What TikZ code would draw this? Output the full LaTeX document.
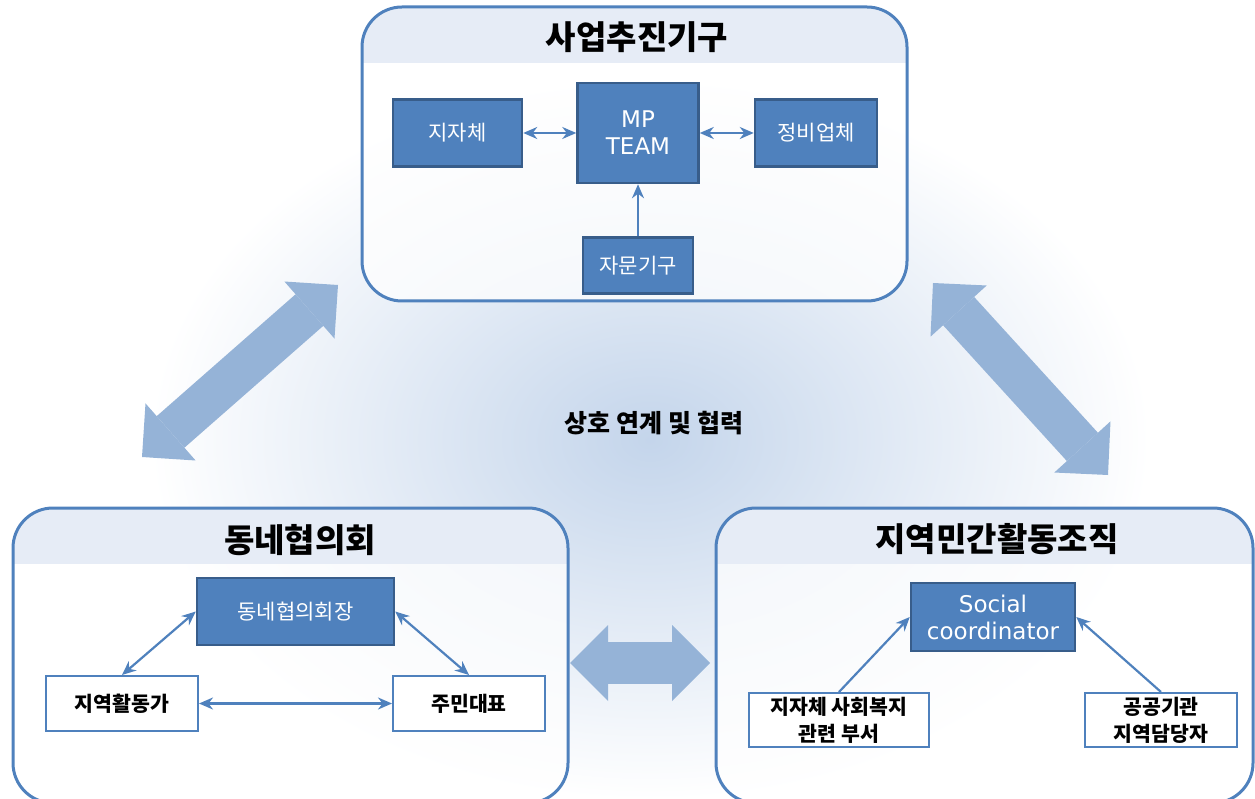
\documentclass[tikz,border=0pt]{standalone}
\usepackage{fontspec}
\setmainfont{Noto Sans CJK KR}
\newfontfamily\latinfont{DejaVu Sans}
\usepackage{tikz}
\usetikzlibrary{positioning}
\usetikzlibrary{arrows.meta}
\definecolor{boxblue}{HTML}{4F81BD}
\definecolor{edgeblue}{HTML}{385D8A}
\definecolor{bandblue}{HTML}{E6ECF6}
\definecolor{glowblue}{HTML}{C4D5EB}
\definecolor{bigblue}{HTML}{95B3D7}
\tikzset {
  % rounded group frames with a pale title band
  group/.style = {draw=boxblue, line width=3pt, rounded corners=40pt,
    fill=white, fill opacity=.75,
    path picture={\fill[bandblue, fill opacity=1, sharp corners] (path picture bounding box.north west)
      rectangle ([yshift=-56pt]path picture bounding box.north east);}},
  title/.style = {font=\bfseries\fontsize{33}{38}\selectfont},
  % filled and plain boxes
  dark/.style = {draw=edgeblue, line width=2.5pt, fill=boxblue, text=white,
    align=center, inner sep=0pt},
  light/.style = {draw=boxblue, line width=2pt, fill=white, align=center,
    inner sep=0pt, font=\bfseries\fontsize{20.5}{27}\selectfont},
  latin/.style = {font=\latinfont\fontsize{23}{27}\selectfont},
  % thin links and wide links
  link/.style = {draw=boxblue, line width=2.2pt,
    {Stealth[length=14pt,width=12pt]}-{Stealth[length=14pt,width=12pt]}},
  linkto/.style = {draw=boxblue, line width=2.2pt, -{Stealth[length=14pt,width=12pt]}},
  big/.style = {draw=bigblue, line width=42pt,
    {Triangle[length=38pt,width=76pt,line width=0pt]}-{Triangle[length=38pt,width=76pt,line width=0pt]}},
}
\begin{document}
\begin{tikzpicture}[x=1pt, y=-1pt, font=\fontsize{21}{27}\selectfont]
        \useasboundingbox (0,0) rectangle (1255,799);
        \clip (0,0) rectangle (1255,799);
        \shade[inner color=glowblue, outer color=white] (650,440) ellipse [x radius=500pt, y radius=360pt];

        \coordinate (bl1) at (142,457);
        \coordinate (bl2) at (338,285);
        \coordinate (br1) at (933,283);
        \coordinate (br2) at (1108,475);
        \coordinate (bm1) at (570,663);
        \coordinate (bm2) at (710,663);
        \draw[big] (bl1) -- (bl2);
        \draw[big] (br1) -- (br2);
        \draw[big] (bm1) -- (bm2);

        \node[group, minimum width=545pt, minimum height=294pt] (gTop) at (634.5,154) {};
        \node[group, minimum width=555pt, minimum height=295pt] (gLeft) at (290.5,655.5) {};
        \node[group, minimum width=537pt, minimum height=295pt] (gRight) at (984.5,655.5) {};
        \node[title] (tTop) at (637,37) {사업추진기구};
        \node[title] (tLeft) at (300,540) {동네협의회};
        \node[title] (tRight) at (997,539) {지역민간활동조직};

        \node[dark, latin, minimum width=121pt, minimum height=100pt] (mp) at (638,133) {MP\\TEAM};
        \node[dark, minimum width=129pt, minimum height=67pt] (jaja) [left=53pt of mp] {지자체};
        \node[dark, minimum width=122pt, minimum height=67pt] (jeongbi) [right=54pt of mp] {정비업체};
        \node[dark, minimum width=110pt, minimum height=56pt] (jamun) [below=52pt of mp] {자문기구};
        \draw[link] (jaja) -- (mp);
        \draw[link] (mp) -- (jeongbi);
        \draw[linkto] (jamun) -- (mp);

        \node[dark, minimum width=197pt, minimum height=67pt] (hoejang) at (295.5,611.5) {동네협의회장};
        \node[light, minimum width=152pt, minimum height=55pt] (hwaldong) at (122,703.5) {지역활동가};
        \node[light, minimum width=152pt, minimum height=55pt] (jumin) at (469,703.5) {주민대표};
        \draw[link] (hwaldong.north) -- (hoejang.west);
        \draw[link] (hoejang.east) -- (jumin.north);
        \draw[link] (hwaldong) -- (jumin);

        \node[dark, latin, minimum width=164pt, minimum height=68pt] (social) at (993,617) {Social\\coordinator};
        \node[light, minimum width=180pt, minimum height=54pt] (jabu) at (839,720) {지자체 사회복지\\관련 부서};
        \node[light, minimum width=152pt, minimum height=54pt] (gonggong) at (1161,720) {공공기관\\지역담당자};
        \draw[linkto] (jabu.north) -- (social.west);
        \draw[linkto] (gonggong.north) -- (social.east);

        \node[font=\bfseries\fontsize{25}{30}\selectfont] (mutual) at (654,423) {상호 연계 및 협력};
\end{tikzpicture}
\end{document}
